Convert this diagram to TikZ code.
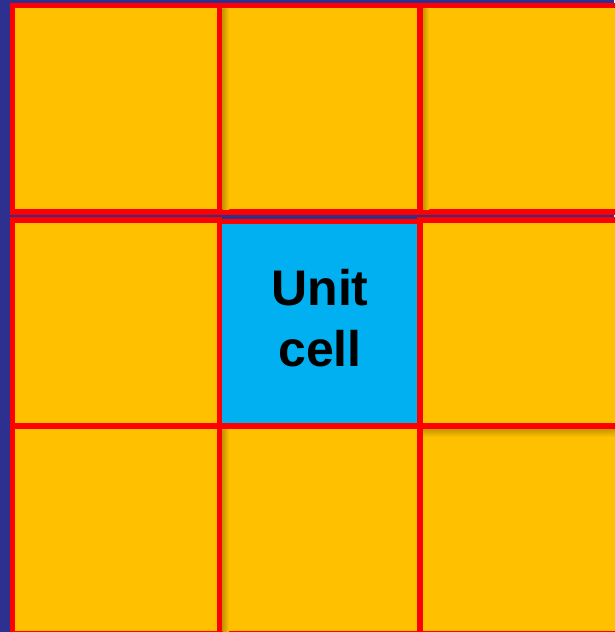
\documentclass[tikz,border=0pt]{standalone}
\usepackage{fontspec}
\setmainfont{Liberation Sans}
\definecolor{bgblue}{HTML}{2E3090}
\definecolor{cellorange}{HTML}{FFC000}
\definecolor{cellblue}{HTML}{00B0F0}
\definecolor{edgered}{HTML}{FF0000}
\colorlet{shadeorange}{black!22!cellorange}
\tikzset{
  cell/.style={fill=cellorange, draw=edgered, line width=5.5pt},
  unitcell/.style={fill=cellblue, draw=edgered, line width=5.5pt},
  vshade/.style={left color=shadeorange, right color=cellorange},
  hshade/.style={top color=shadeorange, bottom color=cellorange},
  label/.style={font=\bfseries\fontsize{50}{61}\selectfont, align=center, text=black}
}
\begin{document}
\begin{tikzpicture}[x=1pt,y=-1pt]
\useasboundingbox (0,0) rectangle (614,632);
\fill[bgblue] (0,0) rectangle (614,632);
% bottom row
\draw[cell] (12.5,426) rectangle (219.5,634);
\draw[cell] (219.5,426) rectangle (420,634);
\draw[cell] (420,426) rectangle (630,634);
\shade[vshade] (222.5,429) rectangle (229,631);
\shade[hshade] (423,429) rectangle (627,437);
% middle row
\draw[cell] (12.5,220) rectangle (219.5,426);
\draw[unitcell] (219.5,221.5) rectangle (420,426);
\draw[cell] (420,220) rectangle (630,426);
% top row
\draw[cell] (12.5,5.5) rectangle (219.5,212);
\draw[cell] (219.5,5.5) rectangle (420,212);
\draw[cell] (420,5.5) rectangle (630,212);
\shade[vshade] (222.5,8.5) rectangle (229,209);
\shade[vshade] (423,8.5) rectangle (429,209);
\node[label] (unit) at (320,318) {Unit\\cell};
\end{tikzpicture}
\end{document}
